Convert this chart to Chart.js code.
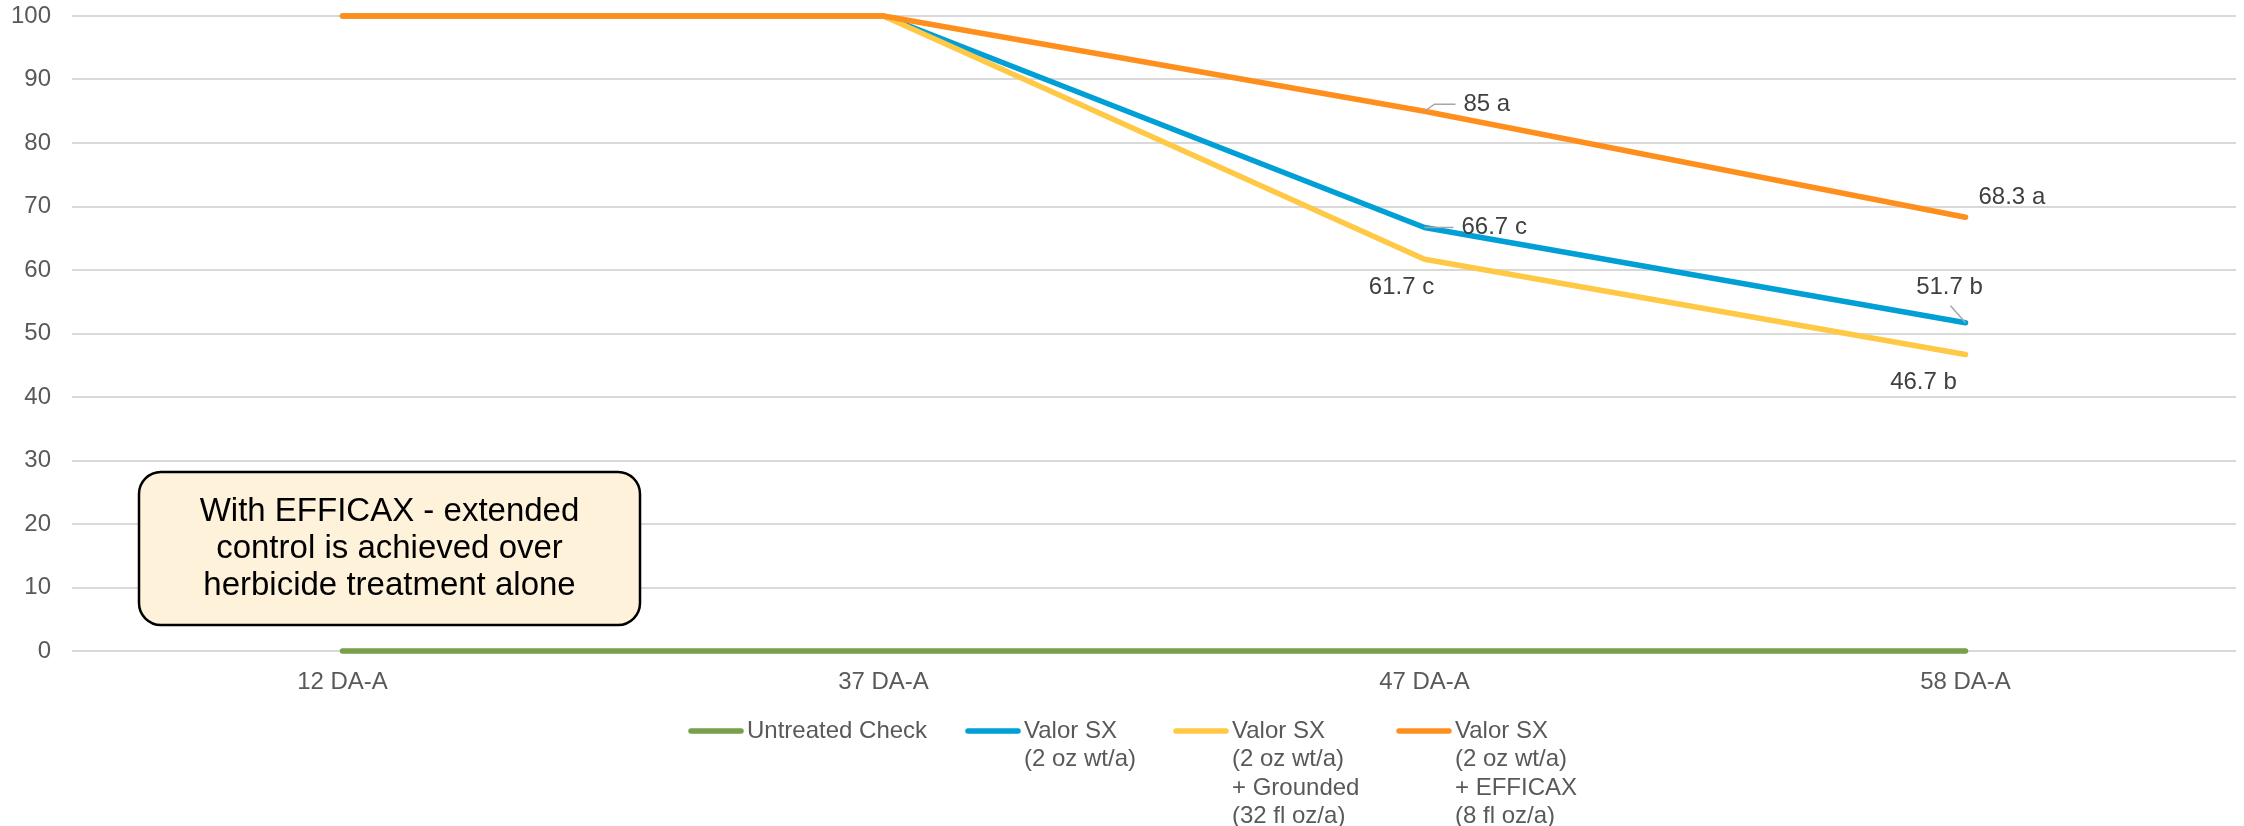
<!DOCTYPE html>
<html>
<head>
<meta charset="utf-8">
<script src="https://cdn.jsdelivr.net/npm/chart.js@4.4.1/dist/chart.umd.min.js"></script>
<style>
  html, body { margin: 0; padding: 0; background: #ffffff; }
  #wrap { width: 2244px; height: 826px; }
</style>
</head>
<body>
<div id="wrap"><canvas id="mycanvas" width="2244" height="826"></canvas></div>
<script>
// categories and series values
var categories = ["12 DA-A", "37 DA-A", "47 DA-A", "58 DA-A"];
var untreated = [0, 0, 0, 0];
var valor = [100, 100, 66.7, 51.7];
var valorGrounded = [100, 100, 61.7, 46.7];
var valorEfficax = [100, 100, 85, 68.3];
var yTicks = [0, 10, 20, 30, 40, 50, 60, 70, 80, 90, 100];

// point labels (null = no label)
var valorLabels = [null, null, "66.7 c", "51.7 b"];
var groundedLabels = [null, null, "61.7 c", "46.7 b"];
var efficaxLabels = [null, null, "85 a", "68.3 a"];

var legendLines = [
  ["Untreated Check"],
  ["Valor SX", "(2 oz wt/a)"],
  ["Valor SX", "(2 oz wt/a)", "+ Grounded", "(32 fl oz/a)"],
  ["Valor SX", "(2 oz wt/a)", "+ EFFICAX", "(8 fl oz/a)"]
];
var noteLines = ["With EFFICAX - extended", "control is achieved over", "herbicide treatment alone"];

var colors = ["#77A04B", "#009FD6", "#FFC845", "#FF8F1C"];
var FONT = "'Liberation Sans', Arial, sans-serif";

// label placement: [dx, dy, align, leader]
var labelPlace = {
  1: { 2: [37, 0, "left", "h"], 3: [-16, -35, "center", "d"] },
  2: { 2: [-23, 28, "center", null], 3: [-42, 28, "center", null] },
  3: { 2: [39, -7, "left", "k"], 3: [13, -20, "left", null] }
};
var labelSets = { 1: valorLabels, 2: groundedLabels, 3: efficaxLabels };

var extras = {
  id: "extras",
  afterDatasetsDraw: function (chart) {
    var ctx = chart.ctx;
    ctx.save();
    // data labels
    ctx.font = "24px " + FONT;
    ctx.textBaseline = "middle";
    for (var d in labelSets) {
      var meta = chart.getDatasetMeta(+d);
      labelSets[d].forEach(function (txt, j) {
        if (!txt) return;
        var pt = meta.data[j];
        var p = labelPlace[d][j];
        var tx = pt.x + p[0], ty = pt.y + p[1];
        ctx.strokeStyle = "#A6A6A6";
        ctx.lineWidth = 1.5;
        if (p[3] === "h") {
          ctx.beginPath(); ctx.moveTo(pt.x, pt.y); ctx.lineTo(tx - 8, ty); ctx.stroke();
        } else if (p[3] === "k") {
          ctx.beginPath(); ctx.moveTo(pt.x, pt.y); ctx.lineTo(pt.x + 10, ty); ctx.lineTo(tx - 8, ty); ctx.stroke();
        } else if (p[3] === "d") {
          ctx.beginPath(); ctx.moveTo(pt.x, pt.y); ctx.lineTo(pt.x - 15, pt.y - 17); ctx.stroke();
        }
        ctx.fillStyle = "#404040";
        ctx.textAlign = p[2];
        ctx.fillText(txt, tx, ty);
      });
    }

    // note box
    var bx = 139, by = 472, bw = 501, bh = 153;
    ctx.beginPath();
    ctx.roundRect(bx, by, bw, bh, 22);
    ctx.fillStyle = "#FEF2DA";
    ctx.fill();
    ctx.lineWidth = 2.5;
    ctx.strokeStyle = "#000000";
    ctx.stroke();
    ctx.fillStyle = "#000000";
    ctx.font = "33px " + FONT;
    ctx.textAlign = "center";
    noteLines.forEach(function (t, i) {
      ctx.fillText(t, bx + bw / 2, by + 40 + i * 37);
    });

    // legend
    var starts = [688, 965, 1173, 1396];
    ctx.font = "24px " + FONT;
    ctx.textAlign = "left";
    legendLines.forEach(function (lines, i) {
      var x = starts[i], y = 731;
      ctx.strokeStyle = colors[i];
      ctx.lineWidth = 5.5;
      ctx.lineCap = "round";
      ctx.beginPath(); ctx.moveTo(x + 3, y); ctx.lineTo(x + 53, y); ctx.stroke();
      ctx.fillStyle = "#595959";
      lines.forEach(function (t, k) {
        ctx.fillText(t, x + 59, y + k * 28.6);
      });
    });
    ctx.restore();
  }
};

var names = ["Untreated Check", "Valor SX (2 oz wt/a)", "Valor SX (2 oz wt/a) + Grounded (32 fl oz/a)", "Valor SX (2 oz wt/a) + EFFICAX (8 fl oz/a)"];
var series = [untreated, valor, valorGrounded, valorEfficax];
var chartdata = {
  labels: categories,
  datasets: series.map(function (vals, i) {
    return {
      label: names[i],
      data: vals,
      borderColor: colors[i],
      backgroundColor: colors[i],
      borderWidth: 5.5,
      borderCapStyle: "round",
      borderJoinStyle: "round",
      pointRadius: 0,
      fill: false,
      tension: 0,
      clip: false,
      order: 4 - i // later series on top, like the original
    };
  })
};

var ctx = document.getElementById("mycanvas");
var LineGraph = new Chart(ctx, {
  type: "line",
  data: chartdata,
  plugins: [extras],
  options: {
    responsive: false,
    animation: false,
    devicePixelRatio: 1,
    layout: { padding: { top: 16, right: 8, left: 0, bottom: 0 } },
    plugins: { legend: { display: false }, tooltip: { enabled: false } },
    scales: {
      x: {
        offset: true,
        grid: { display: false },
        border: { display: false },
        ticks: { color: "#595959", font: { family: FONT, size: 24 }, padding: 9 },
        afterFit: function (s) { s.height = 175; s.paddingLeft = 0; s.paddingRight = 0; }
      },
      y: {
        min: 0, max: 100,
        afterBuildTicks: function (s) { s.ticks = yTicks.map(function (v) { return { value: v }; }); },
        grid: { color: "#D9D9D9", lineWidth: 2, drawTicks: false },
        border: { display: false },
        ticks: { color: "#595959", font: { family: FONT, size: 24 }, padding: 21 },
        afterFit: function (s) { s.width = 72; s.paddingTop = 0; s.paddingBottom = 0; }
      }
    }
  }
});
</script>
</body>
</html>
